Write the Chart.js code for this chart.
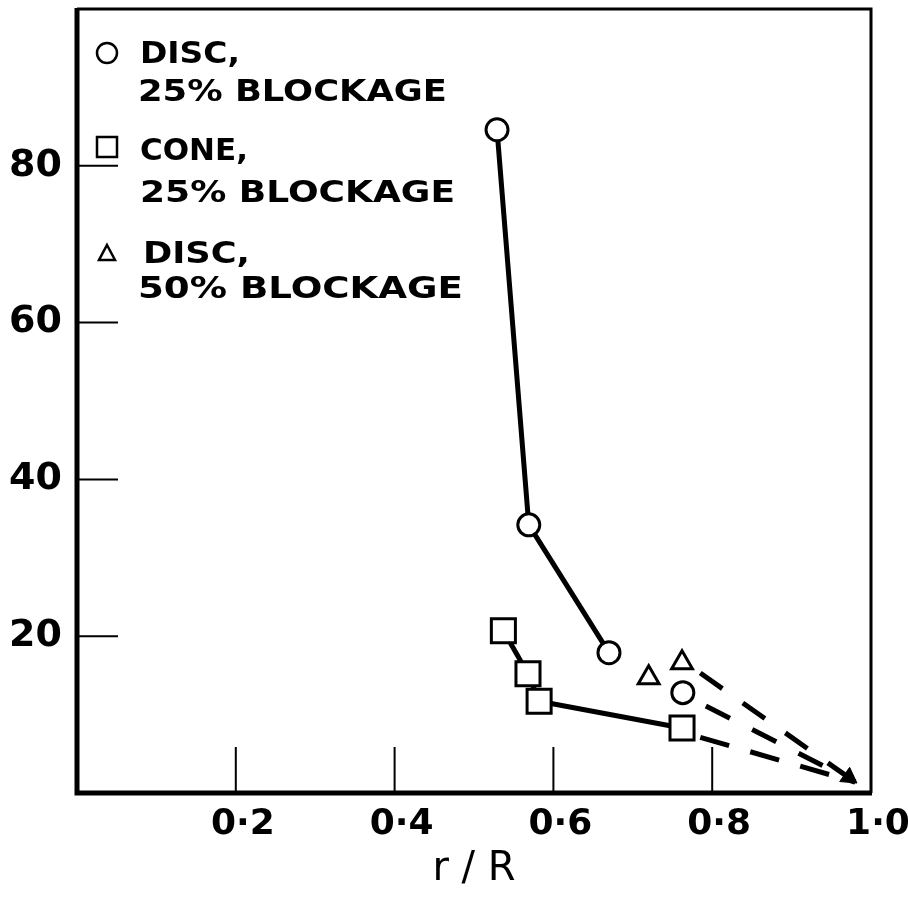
<!DOCTYPE html>
<html><head><meta charset="utf-8">
<script src="https://cdn.jsdelivr.net/npm/chart.js@4.4.0/dist/chart.umd.min.js"></script>
<style>html,body{margin:0;padding:0;background:#fff}canvas{display:block}</style>
</head><body>
<canvas id="c" width="908" height="900"></canvas>
<script>
// ---- data ----
const discX = [0.529, 0.569, 0.670];
const discY = [84.6, 34.2, 17.9];
const discLoneX = [0.763];
const discLoneY = [12.8];
const coneX = [0.537, 0.568, 0.582, 0.762];
const coneY = [20.7, 15.2, 11.7, 8.3];
const disc50X = [0.720, 0.762];
const disc50Y = [14.7, 16.6];
const dashUpperX = [0.785, 0.980];
const dashUpperY = [15.3, 1.4];
const dashMiddleX = [0.792, 0.980];
const dashMiddleY = [11.1, 1.4];
const dashLowerX = [0.785, 0.980];
const dashLowerY = [7.1, 1.4];
const arrowX = [0.972];
const arrowY = [2.0];
const xTickValues = [0.2, 0.4, 0.6, 0.8, 1.0];
const xTickLabels = ['0·2', '0·4', '0·6', '0·8', '1·0'];
const yTickValues = [20, 40, 60, 80];
const yTickLabels = ['20', '40', '60', '80'];
const legendLines = ['DISC,', '25% BLOCKAGE', 'CONE,', '25% BLOCKAGE', 'DISC,', '50% BLOCKAGE'];
const xTitle = 'r / R';

const pts = (xs, ys) => xs.map((x, i) => ({x: x, y: ys[i]}));
const FONT = '"DejaVu Sans", "Liberation Sans", sans-serif';

function labelFor(values, labels, v) {
  for (let i = 0; i < values.length; i++) if (Math.abs(values[i] - v) < 1e-6) return labels[i];
  return null;
}

const framePlugin = {
  id: 'frame',
  beforeDraw(chart) {
    const ctx = chart.ctx;
    ctx.save();
    ctx.fillStyle = '#fff';
    ctx.fillRect(0, 0, chart.width, chart.height);
    ctx.restore();
  },
  beforeDatasetsDraw(chart) {
    const {ctx, chartArea: a, scales} = chart;
    ctx.save();
    ctx.strokeStyle = '#000';
    ctx.lineCap = 'butt';
    ctx.lineWidth = 3;
    ctx.beginPath();
    ctx.moveTo(a.left, a.top); ctx.lineTo(a.right, a.top); ctx.lineTo(a.right, a.bottom);
    ctx.stroke();
    ctx.lineWidth = 5;
    ctx.beginPath();
    ctx.moveTo(a.left, a.top - 1); ctx.lineTo(a.left, a.bottom); ctx.lineTo(a.right + 1, a.bottom);
    ctx.stroke();
    ctx.lineWidth = 2;
    xTickValues.forEach(v => {
      if (v >= 1) return;
      const px = scales.x.getPixelForValue(v);
      ctx.beginPath(); ctx.moveTo(px, a.bottom); ctx.lineTo(px, a.bottom - 46); ctx.stroke();
    });
    yTickValues.forEach(v => {
      const py = scales.y.getPixelForValue(v);
      ctx.beginPath(); ctx.moveTo(a.left, py); ctx.lineTo(a.left + 41, py); ctx.stroke();
    });
    ctx.restore();
  },
  afterDraw(chart) {
    const {ctx, chartArea: a} = chart;
    ctx.save();
    ctx.strokeStyle = '#000';
    ctx.fillStyle = '#fff';
    ctx.lineWidth = 2.5;
    const sx = a.left + 30;
    ctx.beginPath(); ctx.arc(sx, 53, 10, 0, Math.PI * 2); ctx.fill(); ctx.stroke();
    ctx.beginPath(); ctx.rect(sx - 10, 137, 20, 20); ctx.fill(); ctx.stroke();
    ctx.beginPath();
    ctx.moveTo(sx, 245); ctx.lineTo(sx + 8, 260); ctx.lineTo(sx - 8, 260); ctx.closePath();
    ctx.fill(); ctx.stroke();
    ctx.fillStyle = '#000';
    ctx.font = 'bold 30px ' + FONT;
    ctx.textBaseline = 'alphabetic';
    ctx.textAlign = 'left';
    const rows = [[63, 63, 100], [61, 101, 309], [63, 160, 108], [63, 202, 315], [66, 263, 107], [61, 298, 325]];
    legendLines.forEach((t, i) => {
      const [dx, by, w] = rows[i];
      const mw = ctx.measureText(t).width;
      ctx.save();
      ctx.translate(a.left + dx, by);
      ctx.scale(w / mw, 1);
      ctx.fillText(t, 0, 0);
      ctx.restore();
    });
    ctx.restore();
  }
};

new Chart(document.getElementById('c'), {
  type: 'scatter',
  data: {
    datasets: [
      {label: 'Disc 25%', data: pts(discX, discY), showLine: true, borderColor: '#000', borderWidth: 5,
       pointStyle: 'circle', pointRadius: 11, pointBorderWidth: 3, pointBackgroundColor: '#fff', pointBorderColor: '#000'},
      {label: 'Disc 25% (single)', data: pts(discLoneX, discLoneY), showLine: false,
       pointStyle: 'circle', pointRadius: 11, pointBorderWidth: 3, pointBackgroundColor: '#fff', pointBorderColor: '#000'},
      {label: 'Cone 25%', data: pts(coneX, coneY), showLine: true, borderColor: '#000', borderWidth: 5,
       pointStyle: 'rect', pointRadius: 17, pointBorderWidth: 3, pointBackgroundColor: '#fff', pointBorderColor: '#000'},
      {label: 'Disc 50%', data: pts(disc50X, disc50Y), showLine: false,
       pointStyle: 'triangle', pointRadius: 12, pointBorderWidth: 3, pointBackgroundColor: '#fff', pointBorderColor: '#000'},
      {label: 'extrap 1', data: pts(dashUpperX, dashUpperY), showLine: true, borderColor: '#000', borderWidth: 5,
       borderDash: [27, 25], pointRadius: 0},
      {label: 'extrap 2', data: pts(dashMiddleX, dashMiddleY), showLine: true, borderColor: '#000', borderWidth: 5,
       borderDash: [27, 25], pointRadius: 0},
      {label: 'extrap 3', data: pts(dashLowerX, dashLowerY), showLine: true, borderColor: '#000', borderWidth: 5,
       borderDash: [30, 22], pointRadius: 0},
      {label: 'arrow', data: pts(arrowX, arrowY), showLine: false, pointStyle: 'triangle', pointRadius: 10,
       pointRotation: 125, pointBackgroundColor: '#000', pointBorderColor: '#000', pointBorderWidth: 1}
    ]
  },
  options: {
    responsive: false,
    animation: false,
    devicePixelRatio: 1,
    layout: {autoPadding: false, padding: {left: 0, right: 37, top: 9, bottom: 0}},
    plugins: {legend: {display: false}, tooltip: {enabled: false}},
    scales: {
      x: {
        type: 'linear', min: 0, max: 1,
        grid: {display: false, drawTicks: false},
        border: {display: false},
        afterFit(s) { s.height = 107; s.paddingLeft = 0; s.paddingRight = 0; },
        ticks: {
          stepSize: 0.2, padding: 10, labelOffset: 7, color: '#000', maxRotation: 0, autoSkip: false,
          font: {family: FONT, size: 36, weight: 'bold'},
          callback: v => labelFor(xTickValues, xTickLabels, v)
        },
        title: {display: true, text: xTitle, color: '#000', padding: {top: 0, bottom: 6},
                font: {family: FONT, size: 40}}
      },
      y: {
        type: 'linear', min: 0, max: 100,
        grid: {display: false, drawTicks: false},
        border: {display: false},
        afterFit(s) { s.width = 77; s.paddingTop = 0; s.paddingBottom = 0; },
        ticks: {
          stepSize: 20, padding: 15, color: '#000', autoSkip: false,
          font: {family: FONT, size: 38, weight: 'bold'},
          callback: v => labelFor(yTickValues, yTickLabels, v)
        }
      }
    }
  },
  plugins: [framePlugin]
});
</script>
</body></html>
